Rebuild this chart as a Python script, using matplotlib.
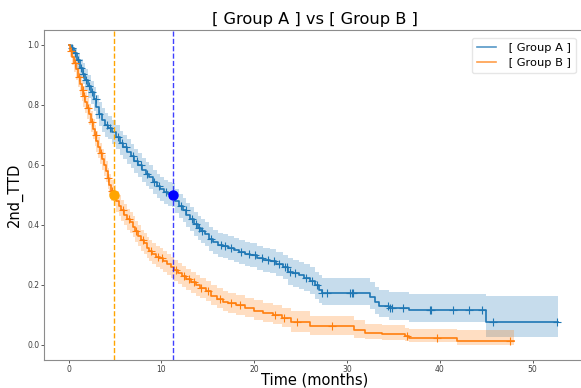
import numpy as np
import matplotlib
matplotlib.use("Agg")
import matplotlib.pyplot as plt

# Kaplan-Meier steps (time, survival, 95% CI)
a_times = [0, 0.3, 0.6, 0.9, 1.2, 1.5, 1.8, 2.1, 2.4, 2.7, 3.0, 3.3, 3.6, 3.9, 4.3, 4.7,
           5.1, 5.5, 5.9, 6.3, 6.7, 7.1, 7.5, 7.9, 8.3, 8.7, 9.1, 9.5, 9.9, 10.3, 10.7,
           11.1, 11.5, 11.9, 12.3, 12.7, 13.1, 13.5, 13.9, 14.3, 14.7, 15.1, 15.6, 16.1,
           16.6, 17.2, 17.8, 18.4, 19.0, 19.6, 20.3, 21.0, 21.7, 22.4, 23.1, 23.6, 24.2,
           24.8, 25.4, 26.0, 26.5, 27.0, 27.3, 32.5, 33.0, 33.4, 34.5, 36.7, 45.0]
a_surv = [1.0, 0.99, 0.975, 0.95, 0.925, 0.905, 0.885, 0.865, 0.845, 0.82, 0.795, 0.77,
          0.75, 0.735, 0.725, 0.71, 0.695, 0.675, 0.66, 0.645, 0.63, 0.615, 0.60, 0.585,
          0.57, 0.56, 0.545, 0.53, 0.52, 0.51, 0.505, 0.50, 0.48, 0.465, 0.45, 0.435,
          0.42, 0.405, 0.39, 0.38, 0.37, 0.355, 0.345, 0.335, 0.33, 0.325, 0.318, 0.31,
          0.305, 0.30, 0.29, 0.285, 0.28, 0.27, 0.26, 0.245, 0.24, 0.233, 0.225, 0.215,
          0.20, 0.185, 0.173, 0.16, 0.145, 0.13, 0.125, 0.117, 0.077]
a_lo = [1.0, 0.97, 0.95, 0.92, 0.89, 0.87, 0.85, 0.825, 0.805, 0.78, 0.755, 0.73, 0.71,
        0.695, 0.685, 0.67, 0.655, 0.635, 0.62, 0.605, 0.59, 0.575, 0.56, 0.545, 0.53,
        0.52, 0.505, 0.49, 0.48, 0.47, 0.465, 0.46, 0.44, 0.425, 0.41, 0.395, 0.38, 0.365,
        0.35, 0.34, 0.33, 0.315, 0.305, 0.295, 0.29, 0.285, 0.278, 0.27, 0.265, 0.26,
        0.25, 0.245, 0.24, 0.23, 0.22, 0.20, 0.195, 0.188, 0.18, 0.17, 0.155, 0.14, 0.133,
        0.12, 0.105, 0.095, 0.085, 0.077, 0.027]
a_hi = [1.0, 1.0, 0.99, 0.975, 0.955, 0.94, 0.92, 0.90, 0.88, 0.86, 0.835, 0.81, 0.79,
        0.775, 0.765, 0.75, 0.735, 0.715, 0.70, 0.685, 0.67, 0.655, 0.64, 0.625, 0.61,
        0.60, 0.585, 0.57, 0.56, 0.55, 0.545, 0.54, 0.52, 0.505, 0.49, 0.475, 0.46, 0.445,
        0.43, 0.42, 0.41, 0.395, 0.385, 0.375, 0.37, 0.365, 0.358, 0.35, 0.345, 0.34,
        0.33, 0.325, 0.32, 0.31, 0.30, 0.29, 0.285, 0.278, 0.27, 0.26, 0.245, 0.232,
        0.223, 0.21, 0.195, 0.185, 0.178, 0.17, 0.165]
a_end = 52.7
a_censor = [0.4, 0.7, 1.0, 1.3, 1.6, 1.9, 2.2, 2.5, 2.9, 3.3, 4.1, 4.5, 5.3, 5.8, 6.2,
            6.9, 7.4, 7.8, 8.5, 9.2, 9.7, 10.5, 12.1, 12.6, 13.3, 13.7, 14.0, 14.4, 15.3,
            16.4, 16.9, 17.5, 18.6, 19.4, 20.1, 20.8, 21.5, 22.1, 22.7, 23.3, 23.5, 23.9,
            24.4, 25.6, 26.2, 26.8, 27.3, 27.9, 30.3, 30.5, 30.6, 34.4, 34.6, 34.9, 36.0,
            38.9, 39.1, 41.4, 43.2, 44.6, 45.7, 52.6]

b_times = [0, 0.2, 0.4, 0.6, 0.8, 1.0, 1.2, 1.4, 1.6, 1.8, 2.0, 2.2, 2.4, 2.6, 2.8, 3.0,
           3.2, 3.4, 3.6, 3.8, 4.0, 4.2, 4.4, 4.6, 4.85, 5.1, 5.4, 5.7, 6.0, 6.3, 6.6, 6.9,
           7.2, 7.5, 7.8, 8.1, 8.4, 8.7, 9.0, 9.4, 9.8, 10.2, 10.6, 11.0, 11.4, 11.8, 12.2,
           12.7, 13.2, 13.7, 14.2, 14.8, 15.4, 16.0, 16.6, 17.2, 18.0, 19.0, 20.0, 21.0,
           22.0, 23.0, 24.0, 26.0, 30.8, 31.9, 33.8, 36.2, 36.7, 41.9]
b_surv = [1.0, 0.98, 0.96, 0.94, 0.92, 0.895, 0.87, 0.85, 0.83, 0.81, 0.79, 0.77, 0.745,
          0.72, 0.70, 0.68, 0.66, 0.64, 0.62, 0.60, 0.58, 0.555, 0.535, 0.515, 0.50, 0.48,
          0.465, 0.45, 0.435, 0.42, 0.41, 0.395, 0.38, 0.365, 0.35, 0.34, 0.325, 0.315,
          0.305, 0.295, 0.29, 0.28, 0.27, 0.26, 0.25, 0.24, 0.23, 0.22, 0.21, 0.20, 0.19,
          0.18, 0.165, 0.155, 0.145, 0.14, 0.132, 0.123, 0.115, 0.107, 0.10, 0.09, 0.077,
          0.063, 0.05, 0.04, 0.037, 0.03, 0.025, 0.013]
b_lo = [1.0, 0.96, 0.935, 0.91, 0.885, 0.86, 0.835, 0.815, 0.795, 0.775, 0.755, 0.735,
        0.71, 0.685, 0.665, 0.645, 0.625, 0.605, 0.585, 0.565, 0.545, 0.52, 0.50, 0.48,
        0.465, 0.445, 0.43, 0.415, 0.40, 0.385, 0.375, 0.36, 0.345, 0.33, 0.315, 0.305,
        0.29, 0.28, 0.27, 0.26, 0.255, 0.245, 0.235, 0.225, 0.215, 0.205, 0.195, 0.185,
        0.175, 0.165, 0.157, 0.147, 0.133, 0.123, 0.113, 0.108, 0.10, 0.092, 0.085, 0.077,
        0.07, 0.06, 0.045, 0.035, 0.025, 0.02, 0.017, 0.012, 0.01, 0.0]
b_hi = [1.0, 0.995, 0.98, 0.965, 0.95, 0.93, 0.905, 0.885, 0.865, 0.845, 0.825, 0.805,
        0.78, 0.755, 0.735, 0.715, 0.695, 0.675, 0.655, 0.635, 0.615, 0.59, 0.57, 0.55,
        0.535, 0.515, 0.50, 0.485, 0.47, 0.455, 0.445, 0.43, 0.415, 0.40, 0.385, 0.375,
        0.36, 0.35, 0.34, 0.33, 0.325, 0.315, 0.305, 0.295, 0.285, 0.275, 0.265, 0.255,
        0.245, 0.235, 0.225, 0.215, 0.20, 0.19, 0.18, 0.175, 0.167, 0.158, 0.15, 0.14,
        0.133, 0.123, 0.112, 0.097, 0.082, 0.07, 0.067, 0.058, 0.053, 0.05]
b_end = 48.0
b_censor = [0.3, 0.7, 1.1, 1.5, 1.7, 2.1, 2.5, 2.9, 3.5, 4.3, 4.7, 5.9, 6.5, 7.3, 8.0,
            8.9, 9.6, 10.1, 11.6, 12.4, 13.0, 13.5, 14.3, 15.0, 16.3, 17.5, 18.5, 22.2,
            23.2, 24.6, 28.4, 36.5, 39.7, 47.6]

a_median = 11.2
b_median = 4.85
labels = [" [ Group A ]", " [ Group B ]"]


def km_draw(ax, t, s, lo, hi, end, cens, color, label):
    t = np.array(t)
    s = np.array(s)
    tt = np.append(t, end)
    ax.step(tt, np.append(s, s[-1]), where="post", color=color, lw=1.2, label=label)
    ax.fill_between(tt, np.append(lo, lo[-1]), np.append(hi, hi[-1]),
                    step="post", color=color, alpha=0.25, lw=0)
    idx = np.searchsorted(t, cens, side="right") - 1
    ax.plot(cens, s[idx], "+", color=color, ms=6, mew=0.8)


def main():
    fig = plt.figure(figsize=(5.81, 3.88), dpi=100)
    ax = fig.add_axes([44 / 581, 28 / 388, 541 / 581, 330 / 388])

    km_draw(ax, a_times, a_surv, a_lo, a_hi, a_end, a_censor, "#1f77b4", labels[0])
    km_draw(ax, b_times, b_surv, b_lo, b_hi, b_end, b_censor, "#ff7f0e", labels[1])

    ax.axvline(b_median, color="orange", ls="--", lw=1)
    ax.axvline(a_median, color="blue", ls="--", lw=1, alpha=0.75)
    ax.plot([b_median], [0.5], "o", color="orange", ms=6.5)
    ax.plot([a_median], [0.5], "o", color="blue", ms=6.5)

    ax.set_xlim(-2.65, 55.65)
    ax.set_ylim(-0.05, 1.05)
    ax.set_xticks([0, 10, 20, 30, 40, 50])
    ax.set_yticks([0.0, 0.2, 0.4, 0.6, 0.8, 1.0])
    ax.tick_params(labelsize=5.5, length=2, width=0.6, pad=1.5, colors="0.25")
    for sp in ax.spines.values():
        sp.set_color("0.55")
    ax.spines["right"].set_visible(False)

    ax.set_title("[ Group A ] vs [ Group B ]", fontsize=11.7, pad=4)
    ax.set_xlabel("Time (months)", fontsize=10.5, labelpad=-1)
    ax.set_ylabel("2nd_TTD", fontsize=10.5, labelpad=3)
    leg = ax.legend(loc="upper right", bbox_to_anchor=(0.993, 0.993), fontsize=8.2,
                    handlelength=1.7, framealpha=1, edgecolor="0.9")
    for ln in leg.get_lines():
        ln.set_alpha(0.75)

    fig.savefig("out.png", dpi=100)


if __name__ == "__main__":
    main()
